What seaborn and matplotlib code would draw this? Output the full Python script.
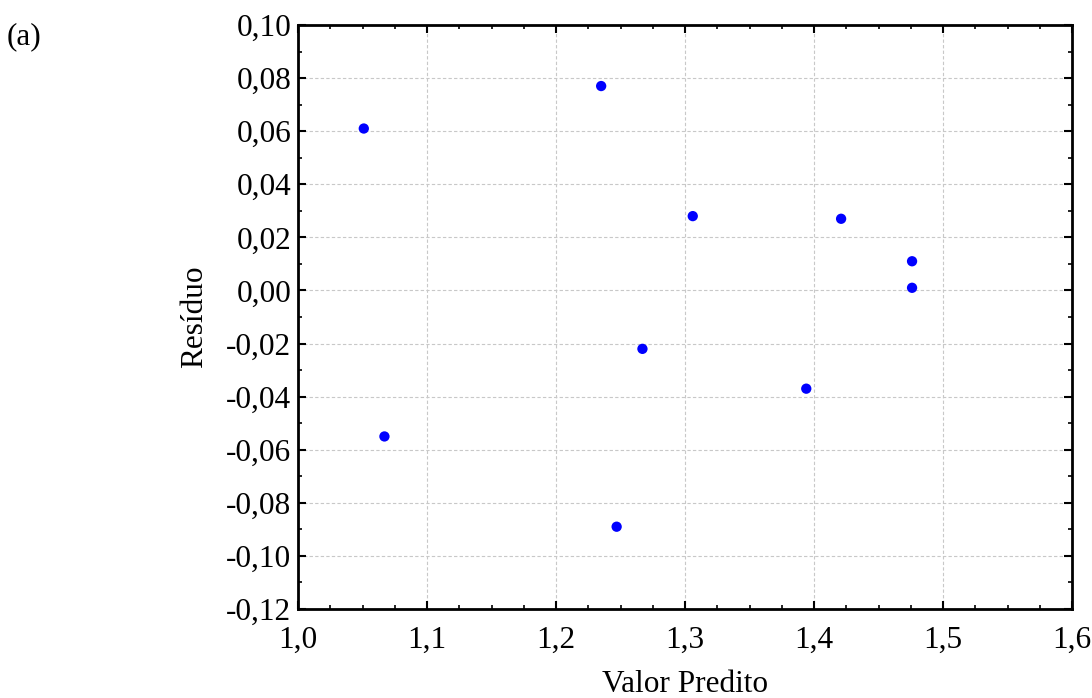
import matplotlib
matplotlib.use("Agg")
import matplotlib.pyplot as plt
from matplotlib.ticker import MultipleLocator, FuncFormatter
import seaborn as sns
import pandas as pd

# Predicted values and residuals
valor_predito = [1.051, 1.067, 1.235, 1.247, 1.267, 1.306, 1.394, 1.421, 1.476, 1.476]
residuo = [0.061, -0.055, 0.077, -0.089, -0.022, 0.028, -0.037, 0.027, 0.011, 0.001]

df = pd.DataFrame({"Valor Predito": valor_predito, "Resíduo": residuo})

sns.set_theme(style="white")
plt.rcParams["font.family"] = ["Liberation Serif", "DejaVu Serif"]
plt.rcParams["text.color"] = "black"
plt.rcParams["axes.labelcolor"] = "black"
plt.rcParams["xtick.color"] = "black"
plt.rcParams["ytick.color"] = "black"

FS = 22.5

fig = plt.figure(figsize=(10.92, 6.98), dpi=100)
ax = fig.add_axes([0.2729, 0.1275, 0.9817 - 0.2729, 0.9642 - 0.1275])

sns.scatterplot(data=df, x="Valor Predito", y="Resíduo", ax=ax,
                color="#0000ff", s=55, edgecolor="none", zorder=3)

ax.set_xlim(1.0, 1.6)
ax.set_ylim(-0.12, 0.10)
ax.xaxis.set_major_locator(MultipleLocator(0.1))
ax.xaxis.set_minor_locator(MultipleLocator(0.025))
ax.yaxis.set_major_locator(MultipleLocator(0.02))
ax.yaxis.set_minor_locator(MultipleLocator(0.01))

def comma_fmt(decimals):
    def f(v, pos):
        s = f"{v:.{decimals}f}"
        if s.startswith("-") and float(s) == 0:
            s = s[1:]
        return s.replace(".", ",")
    return FuncFormatter(f)

ax.xaxis.set_major_formatter(comma_fmt(1))
ax.yaxis.set_major_formatter(comma_fmt(2))

ax.grid(True, which="major", color="#c8c8c8", linestyle=(0, (3, 2)), linewidth=0.8)
ax.set_axisbelow(True)

for sp in ax.spines.values():
    sp.set_color("black")
    sp.set_linewidth(2.0)

ax.tick_params(which="both", direction="in", top=True, right=True,
               bottom=True, left=True, color="black", labelcolor="black")
ax.tick_params(which="major", length=6, width=1.5, labelsize=FS)
ax.tick_params(axis="x", which="major", pad=12)
ax.tick_params(axis="y", which="major", pad=5)
ax.tick_params(which="minor", length=3, width=1.2)

ax.set_xlabel("Valor Predito", fontsize=FS, labelpad=11, color="black")
ax.set_ylabel("Resíduo", fontsize=FS, labelpad=12, color="black")

fig.text(0.006, 0.947, "(a)", fontsize=FS, ha="left", va="center", color="black")

fig.savefig("out.png", dpi=100, facecolor="white")
